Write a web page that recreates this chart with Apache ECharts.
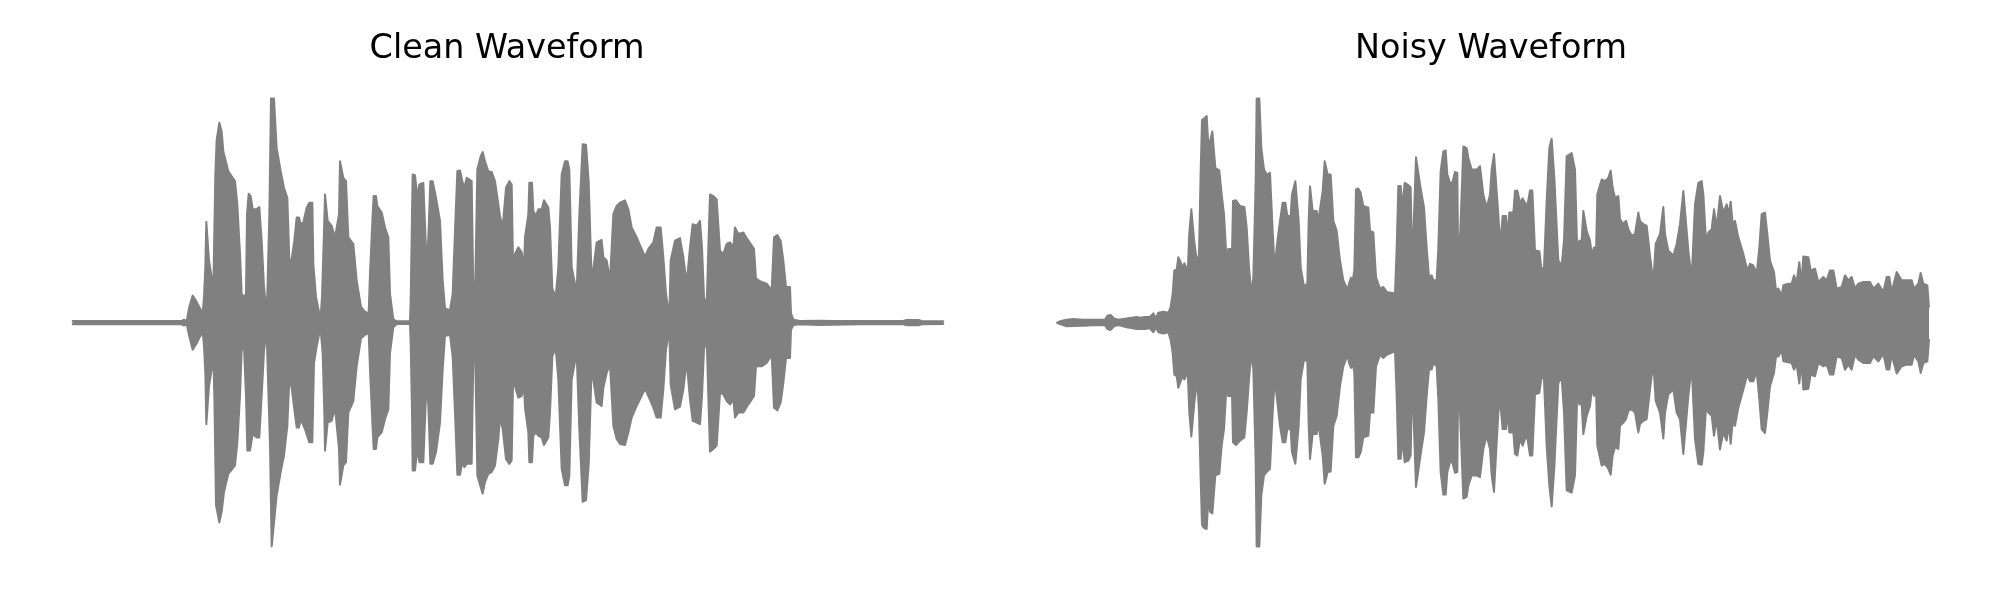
<!DOCTYPE html>
<html>
<head>
<meta charset="utf-8">
<style>html,body{margin:0;padding:0;background:#fff}#c{width:2000px;height:600px}</style>
<script src="https://cdn.jsdelivr.net/npm/echarts@6/dist/echarts.min.js"></script>
</head>
<body>
<div id="c"></div>
<script>
const chartTitles = ["Clean Waveform", "Noisy Waveform"];
const tailStart = 1320;
const timeSpan = 2670;
const amplitudeLimit = 734;

// Envelope readings: time, amplitude, time, amplitude, ...
const cleanUpperHead = [38,5,365,5,372,9,380,4,386,4,388,48,398,82,410,63,428,28,432,78,436,168,439,305,445,305,447,188,455,138,460,103,463,103,466,448,470,553,478,605,485,578,490,518,505,458,525,428,532,358,540,208,545,88,552,76,558,88,561,328,566,390,572,383,578,343,590,343,598,350,605,248,612,108,620,28,622,88,628,328,633,678,642,678,650,528,662,458,672,408,682,378,688,188,695,193,703,248,710,318,717,318,722,298,730,303,740,348,748,363,757,363,760,178,768,78,778,28,782,18,786,78,792,278,795,388,800,388,803,308,815,293,825,258,837,328,840,488,846,488,850,438,858,428,865,258,880,238,890,128,903,48,915,33,926,28,930,148,938,328,941,383,948,383,952,353,965,333,975,288,985,258,990,88,1000,10,1010,4,1050,4,1052,68,1056,328,1058,448,1065,446,1072,378,1078,418,1090,423,1096,423,1100,173,1105,258,1111,428,1118,428,1128,378,1140,308,1148,128,1155,43,1170,38,1178,88,1185,278,1192,458,1200,460,1207,428,1213,408,1220,438,1235,428,1240,98,1246,128,1252,463,1262,503,1268,516,1275,488,1285,458,1295,456,1305,428,1315,358];
const cleanUpperTail = [0,323,8,288,18,408,28,428,35,418,40,128,45,208,55,228,65,213,72,168,75,258,85,328,88,423,96,423,100,338,108,323,115,343,125,343,132,370,145,348,150,288,157,103,167,78,175,168,185,448,195,488,203,488,208,463,215,168,230,93,238,328,248,540,258,538,266,428,275,128,280,163,290,243,305,250,310,198,320,188,330,128,335,128,340,328,350,353,360,363,375,370,385,343,395,288,410,258,435,200,445,223,460,243,470,288,482,288,490,198,498,88,508,18,512,188,518,188,525,248,540,256,550,198,560,118,570,228,578,298,590,293,600,308,606,228,612,78,620,48,625,228,630,388,640,383,650,373,660,218,670,208,680,238,690,243,700,228,705,288,715,268,730,273,745,248,762,223,768,133,785,123,800,118,815,98,822,258,832,265,842,248,850,188,858,108,870,108,873,28,880,9,900,5,960,6,1000,5,1080,5,1210,5,1220,8,1255,8,1265,5,1330,4];
const cleanLowerHead = [38,5,365,5,372,9,380,4,386,5,388,42,398,82,410,62,428,27,432,72,436,152,439,307,445,307,447,192,455,142,460,102,463,222,468,552,478,604,485,572,492,512,505,457,525,432,532,362,540,222,545,82,552,77,558,222,562,387,570,387,578,337,590,347,598,347,605,222,612,87,620,22,622,102,630,372,635,677,641,677,650,522,662,452,672,402,682,312,688,172,695,197,703,262,710,317,717,317,722,292,735,322,748,362,757,362,762,122,770,72,778,32,782,22,788,92,793,272,795,387,800,387,803,302,815,297,825,257,837,382,840,490,846,490,850,432,858,422,865,272,880,237,890,132,903,47,915,37,926,30,930,142,938,322,941,382,948,382,952,347,965,332,975,292,985,262,990,92,1000,14,1010,4,1050,4,1052,62,1056,272,1058,447,1065,447,1072,382,1078,422,1090,422,1096,422,1100,172,1105,252,1111,427,1118,427,1128,392,1140,302,1148,142,1155,40,1170,37,1178,102,1185,272,1192,460,1200,460,1207,422,1213,437,1220,427,1235,427,1240,102,1246,122,1252,462,1262,497,1268,517,1275,482,1285,457,1295,452,1305,432,1315,352];
const cleanLowerTail = [0,287,8,322,18,412,28,427,35,417,40,132,45,192,55,227,65,222,72,192,75,257,85,332,88,422,96,422,100,342,108,332,115,342,125,347,132,370,145,347,150,272,157,102,167,77,175,172,185,442,195,492,203,492,208,462,215,172,230,92,238,322,248,542,258,537,266,432,275,132,280,172,290,242,305,252,310,197,320,152,330,127,335,132,340,312,350,352,360,367,375,370,385,332,395,287,410,252,435,200,445,222,460,257,470,287,482,287,490,202,498,82,508,20,512,187,518,187,525,262,540,254,550,202,560,117,570,232,578,297,590,302,600,307,606,222,612,82,620,47,625,222,630,390,640,382,650,372,660,212,670,217,680,237,690,247,700,232,705,287,715,272,730,272,745,247,762,222,768,132,785,132,800,122,815,97,822,257,832,265,842,242,850,182,858,107,870,107,873,22,880,7,900,5,960,7,1080,5,1210,5,1220,8,1255,8,1265,5,1330,4];
const noisyUpperHead = [22,1,30,4,50,9,70,11,100,9,130,9,165,9,172,21,182,23,192,13,205,9,230,13,260,17,270,15,285,17,300,17,310,28,318,13,325,30,340,33,355,30,362,48,368,88,373,158,380,160,385,198,392,183,398,163,403,180,410,163,412,123,418,273,424,343,430,343,433,243,438,243,442,178,447,208,452,458,456,613,463,618,470,625,476,518,480,548,487,578,493,578,496,468,508,460,515,388,522,328,530,183,535,223,542,223,545,158,549,368,558,370,570,353,583,350,590,288,597,168,604,88,610,138,617,428,620,678,628,678,634,528,642,463,650,448,660,453,668,278,674,163,680,228,690,308,698,363,706,363,712,323,722,323,726,388,732,388,736,428,742,430,746,308,752,168,762,110,772,118,776,308,780,412,784,412,788,338,800,338,805,308,818,398,824,488,830,488,833,448,842,448,850,308,860,278,870,188,880,128,893,98,897,118,903,136,908,128,913,158,918,403,925,406,932,393,940,353,955,348,960,278,970,273,978,138,990,103,1000,108,1010,93,1035,88,1040,228,1045,413,1052,413,1057,348,1064,423,1075,416,1082,408,1087,158,1092,328,1098,500,1104,498,1110,418,1122,348,1130,228,1137,138,1145,143,1150,128,1160,128,1165,228,1172,458,1180,518,1187,521,1192,448,1200,423,1207,423,1215,456,1222,453,1225,138,1232,308,1240,533,1250,528,1255,498,1265,463,1280,463,1290,473,1300,388,1310,348];
const noisyUpperTail = [0,388,5,463,12,510,18,510,25,328,30,233,38,323,48,323,52,258,58,333,70,333,75,398,82,400,90,363,98,376,105,363,112,353,120,400,127,400,135,218,148,216,155,158,162,168,170,368,178,528,185,556,190,556,193,438,205,188,215,173,222,248,230,503,245,513,255,463,262,208,268,248,275,248,280,338,285,338,290,278,300,248,306,203,312,228,318,208,322,388,335,433,345,428,355,438,362,460,368,408,375,378,385,383,390,313,400,298,408,308,415,283,425,263,435,268,445,333,450,308,460,298,470,293,480,203,490,123,497,238,510,268,520,350,525,268,535,218,550,203,560,238,570,298,580,398,585,398,595,218,605,133,615,358,625,423,635,428,640,388,648,248,655,273,665,283,672,343,680,288,690,383,695,383,700,333,710,358,716,328,722,366,728,298,735,308,745,258,760,208,772,158,780,178,790,173,800,148,808,228,815,328,825,333,832,268,840,188,852,153,858,98,865,103,875,83,880,113,895,118,905,118,912,143,920,123,928,183,934,118,940,200,955,198,962,158,975,163,985,123,1000,138,1010,128,1020,158,1030,158,1040,103,1055,108,1065,143,1075,128,1085,138,1095,103,1105,118,1120,123,1140,123,1150,103,1165,118,1180,93,1190,138,1198,138,1205,93,1220,153,1235,128,1250,128,1265,128,1272,103,1285,118,1292,150,1300,118,1312,113,1317,48];
const noisyLowerHead = [22,1,30,4,50,11,70,10,100,9,130,8,165,8,172,19,182,22,192,11,205,7,230,14,260,19,285,19,300,17,310,29,318,14,325,29,340,33,355,29,362,52,368,92,373,157,380,162,385,197,392,177,398,162,403,172,410,157,412,122,418,272,424,344,430,344,433,242,438,242,442,172,447,272,452,472,456,612,463,622,470,624,476,512,480,572,487,577,493,577,496,462,508,457,515,372,522,322,530,182,535,222,542,222,545,172,549,362,558,370,570,357,583,347,590,272,597,172,604,92,610,142,617,422,620,677,628,677,634,522,642,462,650,452,660,442,668,272,674,172,680,222,690,312,698,362,706,362,712,322,722,322,726,392,732,392,736,427,742,430,746,312,752,172,762,112,772,117,776,312,780,412,784,412,788,337,800,337,805,302,818,402,824,487,830,487,833,452,842,450,850,312,860,282,870,192,880,132,893,97,897,122,903,137,908,122,913,152,918,407,925,407,932,392,940,347,955,342,960,272,970,272,978,132,990,97,1000,107,1010,97,1035,87,1040,222,1045,412,1052,412,1057,352,1064,422,1075,417,1082,402,1087,152,1092,322,1098,497,1104,497,1110,412,1122,332,1130,222,1137,142,1145,142,1150,122,1160,132,1165,232,1172,452,1180,520,1187,520,1192,452,1200,422,1207,422,1215,454,1222,452,1225,142,1232,322,1240,532,1250,527,1255,492,1265,462,1280,462,1290,467,1300,382,1310,342];
const noisyLowerTail = [0,382,5,462,12,512,18,512,25,272,30,232,38,322,48,322,52,272,58,332,70,332,75,397,82,402,90,352,98,372,105,352,112,347,120,402,127,402,135,217,148,212,155,162,162,172,170,372,178,492,185,556,190,556,193,437,205,182,215,167,222,272,230,507,245,514,255,462,262,207,268,247,275,247,280,337,285,337,290,282,300,252,306,197,312,222,318,197,322,372,335,432,345,427,355,442,362,460,368,402,375,377,385,382,390,312,400,302,408,292,415,267,425,262,435,272,445,332,450,307,460,297,470,292,480,202,490,122,497,237,510,272,520,350,525,272,535,217,550,202,560,272,570,292,580,397,585,397,595,222,605,132,615,352,625,427,635,430,640,392,648,257,655,272,665,282,672,342,680,292,690,384,695,384,700,332,710,357,716,307,722,367,728,302,735,312,745,257,760,202,772,157,780,177,790,177,800,147,808,232,815,322,825,334,832,272,840,192,852,152,858,102,865,102,875,84,880,117,895,120,905,122,912,142,920,127,928,184,934,117,940,202,955,200,962,157,975,162,985,122,1000,132,1010,127,1020,157,1030,157,1040,102,1055,107,1065,142,1075,127,1085,142,1095,97,1105,112,1120,122,1140,122,1150,102,1165,117,1180,94,1190,142,1198,142,1205,97,1220,154,1235,132,1250,127,1265,127,1272,97,1285,117,1292,152,1300,122,1312,117,1317,52];

function envelope(head, tail, sign) {
  const pts = [];
  for (let i = 0; i < head.length; i += 2) pts.push([head[i], sign * head[i + 1]]);
  for (let i = 0; i < tail.length; i += 2) pts.push([tail[i] + tailStart, sign * tail[i + 1]]);
  return pts;
}
const GRAY = '#808080';
function wave(name, idx, data, origin) {
  return {
    name, type: 'line', xAxisIndex: idx, yAxisIndex: idx, data,
    showSymbol: false, silent: true, clip: false,
    lineStyle: { color: GRAY, width: 2, join: 'round', cap: 'round' },
    areaStyle: { color: GRAY, opacity: 1, origin },
    itemStyle: { color: GRAY }
  };
}
const grids = [
  { left: 60, top: 80, width: 890, height: 485.33 },
  { left: 1050, top: 80, width: 890, height: 485.33 }
];
const titleStyle = { fontFamily: 'DejaVu Sans', fontSize: 33.4, fontWeight: 'normal', color: '#000' };
const chart = echarts.init(document.getElementById('c'), null, { renderer: 'canvas' });
chart.setOption({
  animation: false,
  backgroundColor: '#ffffff',
  title: [
    { text: chartTitles[0], left: 502, top: 28, textAlign: 'center', textStyle: titleStyle },
    { text: chartTitles[1], left: 1486, top: 28, textAlign: 'center', textStyle: titleStyle }
  ],
  grid: grids,
  xAxis: grids.map((g, i) => ({ type: 'value', gridIndex: i, min: 0, max: timeSpan, show: false })),
  yAxis: grids.map((g, i) => ({ type: 'value', gridIndex: i, min: -amplitudeLimit, max: amplitudeLimit, show: false })),
  series: [
    wave('Clean upper', 0, envelope(cleanUpperHead, cleanUpperTail, 1), -3),
    wave('Clean lower', 0, envelope(cleanLowerHead, cleanLowerTail, -1), 3),
    wave('Noisy upper', 1, envelope(noisyUpperHead, noisyUpperTail, 1), -3),
    wave('Noisy lower', 1, envelope(noisyLowerHead, noisyLowerTail, -1), 3)
  ]
});
</script>
</body>
</html>
